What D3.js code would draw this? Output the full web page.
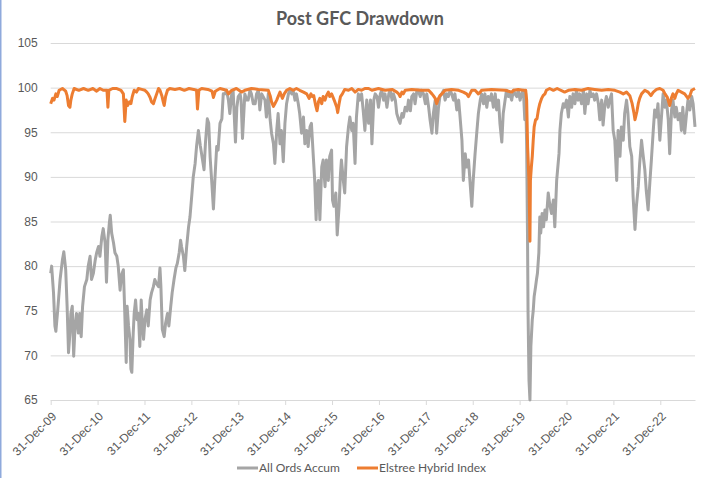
<!DOCTYPE html>
<html>
<head>
<meta charset="utf-8">
<script src="https://cdnjs.cloudflare.com/ajax/libs/d3/7.8.5/d3.min.js"></script>
<style>
  body { margin: 0; background: #fff; }
  svg { display: block; font-family: Lato, "Open Sans", sans-serif; }
  .axis text { fill: #595959; font-size: 12px; }
  .axis line { stroke: #d9d9d9; }
  .axis path { stroke: #d9d9d9; }
  .legend-text { fill: #595959; font-size: 12px; }
</style>
</head>
<body>
<div class="container"></div>
<script>
// dates are decimal years (2010.00 = 31-Dec-09)
var allOrds = [
  [2010.00,79.2],[2010.02,80.0],[2010.06,77.0],[2010.09,73.3],[2010.11,72.7],[2010.15,75.1],[2010.20,78.5],[2010.25,80.7],
  [2010.28,81.6],[2010.32,79.6],[2010.35,75.5],[2010.38,70.3],[2010.41,72.5],[2010.43,74.7],[2010.46,75.5],[2010.49,69.9],
  [2010.52,73.3],[2010.55,74.7],[2010.59,72.5],[2010.62,74.7],[2010.65,72.1],[2010.68,75.5],[2010.72,77.7],[2010.77,78.5],
  [2010.80,80.0],[2010.84,81.1],[2010.87,78.5],[2010.91,79.2],[2010.95,80.7],[2010.98,81.5],[2011.02,82.2],[2011.05,81.1],
  [2011.09,83.3],[2011.12,84.2],[2011.16,82.6],[2011.19,78.2],[2011.22,83.0],[2011.25,84.8],[2011.27,85.7],[2011.30,83.7],
  [2011.34,82.6],[2011.37,81.5],[2011.41,81.1],[2011.44,80.0],[2011.48,77.3],[2011.51,79.0],[2011.55,79.6],[2011.58,74.7],
  [2011.61,69.2],[2011.63,75.5],[2011.66,73.3],[2011.69,71.8],[2011.71,68.5],[2011.73,68.1],[2011.76,72.5],[2011.78,74.7],
  [2011.81,76.2],[2011.84,74.0],[2011.87,74.7],[2011.90,71.0],[2011.93,76.2],[2011.95,74.0],[2011.98,71.8],[2012.01,74.0],
  [2012.05,75.1],[2012.08,73.3],[2012.12,76.2],[2012.15,77.0],[2012.19,77.7],[2012.22,78.5],[2012.26,78.0],[2012.30,77.7],
  [2012.33,79.8],[2012.35,77.7],[2012.38,72.9],[2012.42,72.1],[2012.45,73.6],[2012.49,74.7],[2012.52,73.3],[2012.56,75.5],
  [2012.59,77.0],[2012.63,78.5],[2012.67,79.8],[2012.70,80.3],[2012.74,81.5],[2012.77,82.9],[2012.79,82.2],[2012.83,81.1],
  [2012.86,79.5],[2012.90,82.2],[2012.94,84.4],[2012.97,85.5],[2013.01,88.0],[2013.04,90.0],[2013.08,91.5],[2013.11,93.4],
  [2013.15,95.2],[2013.19,93.5],[2013.22,92.5],[2013.27,90.8],[2013.30,93.8],[2013.34,96.5],[2013.37,96.0],[2013.40,92.2],
  [2013.44,89.0],[2013.47,86.4],[2013.50,89.6],[2013.54,93.4],[2013.57,93.0],[2013.61,96.0],[2013.65,96.5],[2013.68,99.3],
  [2013.72,99.3],[2013.75,99.7],[2013.79,98.6],[2013.82,97.1],[2013.86,99.3],[2013.89,99.7],[2013.94,93.9],[2013.97,97.8],
  [2014.00,99.0],[2014.04,99.3],[2014.06,98.6],[2014.09,94.3],[2014.14,99.3],[2014.18,98.6],[2014.21,98.6],[2014.25,99.7],
  [2014.28,99.3],[2014.32,98.2],[2014.36,98.2],[2014.39,99.3],[2014.43,99.7],[2014.46,97.5],[2014.50,99.3],[2014.57,98.6],
  [2014.60,96.7],[2014.64,99.3],[2014.68,96.4],[2014.71,94.9],[2014.75,93.7],[2014.78,91.5],[2014.82,95.2],[2014.85,97.1],
  [2014.89,93.7],[2014.92,95.2],[2014.96,91.7],[2014.995,96.0],[2015.03,98.2],[2015.07,99.3],[2015.10,99.7],[2015.14,99.3],
  [2015.17,99.7],[2015.21,98.6],[2015.24,99.3],[2015.28,98.2],[2015.31,97.1],[2015.35,94.9],[2015.39,96.7],[2015.42,93.7],
  [2015.46,95.2],[2015.49,93.4],[2015.53,95.6],[2015.56,96.0],[2015.60,92.3],[2015.63,89.6],[2015.66,85.2],[2015.68,88.9],
  [2015.71,89.6],[2015.74,85.2],[2015.78,91.1],[2015.81,91.9],[2015.85,88.9],[2015.88,91.9],[2015.92,89.6],[2015.95,92.3],
  [2015.99,93.0],[2016.01,87.4],[2016.04,86.7],[2016.08,88.2],[2016.11,83.5],[2016.15,86.7],[2016.18,90.4],[2016.20,91.9],
  [2016.24,89.6],[2016.27,88.2],[2016.31,93.4],[2016.35,95.6],[2016.38,96.7],[2016.42,95.2],[2016.45,96.0],[2016.49,91.5],
  [2016.52,96.7],[2016.56,99.3],[2016.59,98.6],[2016.63,99.3],[2016.67,97.1],[2016.70,95.2],[2016.74,98.6],[2016.78,96.0],
  [2016.82,98.6],[2016.85,93.7],[2016.89,98.6],[2016.92,99.3],[2016.96,99.0],[2016.99,97.8],[2017.03,99.3],[2017.06,99.7],
  [2017.10,98.6],[2017.13,99.3],[2017.17,97.8],[2017.21,99.3],[2017.24,99.7],[2017.28,98.6],[2017.31,99.3],[2017.35,98.6],
  [2017.38,97.1],[2017.42,96.4],[2017.45,96.0],[2017.49,97.1],[2017.52,96.7],[2017.56,97.8],[2017.60,97.4],[2017.63,98.6],
  [2017.67,97.4],[2017.70,99.0],[2017.74,99.3],[2017.77,98.2],[2017.81,99.7],[2017.84,99.7],[2017.88,99.0],[2017.91,99.7],
  [2017.95,99.3],[2017.99,98.2],[2018.02,99.3],[2018.06,97.8],[2018.09,96.4],[2018.13,94.9],[2018.16,97.1],[2018.20,98.6],
  [2018.23,94.9],[2018.27,97.8],[2018.30,99.0],[2018.34,99.3],[2018.38,99.7],[2018.41,98.6],[2018.45,99.3],[2018.48,99.0],
  [2018.52,99.7],[2018.55,99.3],[2018.59,98.6],[2018.62,99.3],[2018.66,97.5],[2018.70,98.6],[2018.73,96.7],[2018.77,94.1],
  [2018.80,89.6],[2018.84,92.6],[2018.87,91.1],[2018.91,91.9],[2018.94,89.6],[2018.98,86.7],[2019.01,89.6],[2019.05,92.6],
  [2019.09,95.2],[2019.12,97.1],[2019.16,98.6],[2019.19,99.3],[2019.23,98.2],[2019.26,99.3],[2019.30,97.8],[2019.33,99.0],
  [2019.37,98.6],[2019.40,99.3],[2019.44,97.8],[2019.48,99.3],[2019.51,97.5],[2019.55,98.6],[2019.58,96.0],[2019.62,93.9],
  [2019.65,97.1],[2019.69,98.6],[2019.72,99.7],[2019.76,99.0],[2019.79,99.3],[2019.83,98.6],[2019.87,99.7],[2019.90,99.3],
  [2019.94,99.0],[2019.97,99.7],[2020.01,98.6],[2020.04,99.3],[2020.08,99.7],[2020.11,96.4],[2020.13,99.3],[2020.15,93.4],
  [2020.17,82.2],[2020.18,74.7],[2020.20,67.2],[2020.22,65.0],[2020.24,71.0],[2020.27,74.0],[2020.29,75.0],[2020.31,76.6],
  [2020.34,77.7],[2020.36,78.5],[2020.38,79.2],[2020.41,81.5],[2020.43,85.5],[2020.45,83.7],[2020.48,85.9],[2020.51,84.4],
  [2020.54,86.3],[2020.57,85.2],[2020.61,88.2],[2020.64,87.0],[2020.68,85.9],[2020.72,87.4],[2020.75,84.4],[2020.79,89.6],
  [2020.81,90.8],[2020.84,92.6],[2020.86,95.2],[2020.89,97.1],[2020.93,98.2],[2020.96,97.8],[2021.00,98.6],[2021.04,96.7],
  [2021.07,99.0],[2021.11,97.8],[2021.14,99.3],[2021.18,98.2],[2021.21,99.7],[2021.25,98.6],[2021.28,99.3],[2021.32,98.2],
  [2021.36,99.7],[2021.39,97.1],[2021.43,99.3],[2021.46,98.2],[2021.50,99.7],[2021.53,99.0],[2021.57,99.3],[2021.60,98.6],
  [2021.64,99.3],[2021.68,98.2],[2021.71,96.4],[2021.75,98.6],[2021.78,95.8],[2021.82,98.2],[2021.85,99.0],[2021.89,97.8],
  [2021.92,98.6],[2021.96,99.3],[2021.995,95.2],[2022.03,94.1],[2022.07,89.6],[2022.10,95.2],[2022.14,92.3],[2022.17,95.6],
  [2022.21,94.1],[2022.24,97.1],[2022.28,98.6],[2022.31,97.1],[2022.35,93.4],[2022.39,92.3],[2022.42,87.8],[2022.46,84.1],
  [2022.49,86.7],[2022.53,88.9],[2022.56,91.5],[2022.60,94.1],[2022.63,92.6],[2022.67,90.8],[2022.70,88.5],[2022.74,86.3],
  [2022.78,89.6],[2022.81,91.9],[2022.85,95.2],[2022.88,97.5],[2022.92,96.7],[2022.95,98.2],[2022.99,94.1],[2023.03,97.1],
  [2023.06,99.3],[2023.10,97.8],[2023.13,98.6],[2023.17,96.4],[2023.20,92.6],[2023.24,97.5],[2023.27,98.6],[2023.31,96.7],
  [2023.34,97.8],[2023.38,96.4],[2023.42,97.1],[2023.45,95.2],[2023.48,97.8],[2023.52,94.9],[2023.56,97.1],[2023.59,98.6],
  [2023.63,97.5],[2023.67,99.0],[2023.70,98.2],[2023.74,95.6]
];

var elstree = [
  [2010.00,98.2],[2010.04,98.8],[2010.07,98.6],[2010.11,99.3],[2010.14,99.0],[2010.18,99.7],[2010.25,99.9],[2010.32,99.6],
  [2010.35,99.1],[2010.38,98.0],[2010.41,97.8],[2010.43,98.6],[2010.46,99.3],[2010.50,99.9],[2010.60,99.7],[2010.70,99.9],
  [2010.80,99.7],[2010.90,99.9],[2010.98,99.6],[2011.05,99.9],[2011.12,99.7],[2011.20,99.7],[2011.22,97.8],[2011.24,99.7],
  [2011.32,99.9],[2011.41,99.9],[2011.50,99.7],[2011.55,99.3],[2011.58,96.2],[2011.61,98.6],[2011.64,98.0],[2011.68,98.4],
  [2011.71,98.2],[2011.74,99.0],[2011.78,99.7],[2011.83,99.5],[2011.87,99.9],[2011.94,99.8],[2012.01,99.7],[2012.05,99.5],
  [2012.08,99.3],[2012.12,98.9],[2012.15,98.4],[2012.19,98.2],[2012.22,98.7],[2012.26,99.3],[2012.30,99.9],[2012.33,99.7],
  [2012.37,99.1],[2012.40,98.4],[2012.42,98.0],[2012.45,99.0],[2012.49,99.7],[2012.54,99.9],[2012.65,99.8],[2012.75,99.9],
  [2012.85,99.7],[2012.95,99.9],[2013.05,99.8],[2013.11,99.7],[2013.13,97.6],[2013.16,99.7],[2013.22,99.9],[2013.35,99.8],
  [2013.44,99.6],[2013.47,98.9],[2013.51,99.6],[2013.61,99.9],[2013.75,99.7],[2013.79,99.3],[2013.86,99.7],[2013.96,99.9],
  [2014.07,99.5],[2014.14,99.7],[2014.28,99.9],[2014.43,99.8],[2014.64,99.7],[2014.68,99.1],[2014.71,98.4],[2014.75,97.9],
  [2014.78,98.2],[2014.82,98.6],[2014.85,99.0],[2014.89,99.5],[2014.94,98.8],[2014.98,99.3],[2015.03,99.7],[2015.10,99.9],
  [2015.17,99.7],[2015.24,99.9],[2015.31,99.7],[2015.39,99.5],[2015.46,99.3],[2015.51,98.8],[2015.55,99.3],[2015.58,99.0],
  [2015.61,99.1],[2015.65,98.0],[2015.68,97.4],[2015.71,98.4],[2015.74,98.8],[2015.78,98.2],[2015.81,99.0],[2015.85,98.6],
  [2015.88,99.1],[2015.92,99.5],[2015.95,99.0],[2015.99,99.3],[2016.03,98.8],[2016.06,98.4],[2016.10,97.8],[2016.12,97.2],
  [2016.15,98.2],[2016.18,99.0],[2016.22,99.3],[2016.27,99.8],[2016.35,99.7],[2016.42,99.9],[2016.49,99.5],[2016.56,99.8],
  [2016.63,99.7],[2016.70,99.9],[2016.78,99.9],[2016.85,99.7],[2016.99,99.9],[2017.13,99.7],[2017.28,99.8],[2017.38,99.5],
  [2017.42,99.3],[2017.45,99.0],[2017.49,99.5],[2017.52,99.3],[2017.56,99.7],[2017.70,99.8],[2017.91,99.7],[2018.06,99.7],
  [2018.13,99.3],[2018.16,99.1],[2018.20,98.8],[2018.23,98.2],[2018.27,98.8],[2018.30,99.1],[2018.34,99.3],[2018.41,99.7],
  [2018.55,99.8],[2018.70,99.7],[2018.80,99.5],[2018.87,99.3],[2018.91,99.0],[2018.94,99.3],[2018.98,99.7],[2019.05,99.7],
  [2019.12,99.3],[2019.16,99.5],[2019.19,99.7],[2019.40,99.8],[2019.69,99.7],[2019.83,99.5],[2019.87,99.7],[2019.97,99.8],
  [2020.08,99.7],[2020.13,99.7],[2020.15,98.6],[2020.17,93.4],[2020.20,89.6],[2020.22,82.8],[2020.23,89.6],[2020.25,91.1],
  [2020.27,92.3],[2020.29,94.1],[2020.31,95.6],[2020.34,96.4],[2020.37,96.5],[2020.40,97.5],[2020.43,98.2],[2020.47,98.8],
  [2020.50,99.1],[2020.54,99.3],[2020.57,99.7],[2020.64,99.9],[2020.72,99.7],[2020.80,99.9],[2020.96,99.5],[2021.04,99.7],
  [2021.18,99.8],[2021.32,99.7],[2021.46,99.9],[2021.60,99.8],[2021.75,99.7],[2021.89,99.8],[2022.03,99.7],[2022.14,99.5],
  [2022.21,99.3],[2022.28,99.5],[2022.35,99.1],[2022.40,98.2],[2022.44,97.1],[2022.46,96.4],[2022.50,97.3],[2022.53,98.2],
  [2022.56,98.8],[2022.60,99.3],[2022.67,99.7],[2022.74,99.5],[2022.80,99.1],[2022.85,99.5],[2022.92,99.8],[2022.99,99.9],
  [2023.06,99.7],[2023.10,99.3],[2023.15,98.9],[2023.20,98.0],[2023.24,98.9],[2023.27,99.3],[2023.31,98.8],[2023.34,99.3],
  [2023.38,99.7],[2023.45,99.5],[2023.52,99.3],[2023.59,98.8],[2023.63,99.1],[2023.67,99.7],[2023.74,99.9]
];

var tickYears = [2010, 2011, 2012, 2013, 2014, 2015, 2016, 2017, 2018, 2019, 2020, 2021, 2022, 2023];
var tickLabels = ["31-Dec-09", "31-Dec-10", "31-Dec-11", "31-Dec-12", "31-Dec-13", "31-Dec-14", "31-Dec-15",
                  "31-Dec-16", "31-Dec-17", "31-Dec-18", "31-Dec-19", "31-Dec-20", "31-Dec-21", "31-Dec-22"];
var yTicks = [65, 70, 75, 80, 85, 90, 95, 100, 105];
var seriesNames = ["All Ords Accum", "Elstree Hybrid Index"];
var seriesColors = ["#a5a5a5", "#ed7d31"];

var margin = {top: 43, right: 12, bottom: 78, left: 50.7},
    width = 707 - margin.left - margin.right,
    height = 478 - margin.top - margin.bottom;

var root = d3.select(".container")
  .append("svg")
    .attr("width", 707)
    .attr("height", 478);

// frame edge on the left
root.append("line")
  .attr("x1", 0.75).attr("x2", 0.75)
  .attr("y1", 0).attr("y2", 478)
  .attr("stroke", "#8faadc")
  .attr("stroke-width", 1.5);

root.append("text")
  .attr("x", 360)
  .attr("y", 25)
  .attr("text-anchor", "middle")
  .attr("fill", "#595959")
  .style("font-size", "18px")
  .style("font-weight", "bold")
  .text("Post GFC Drawdown");

var svg = root.append("g")
  .attr("transform", "translate(" + margin.left + "," + margin.top + ")");

var x = d3.scaleLinear()
  .domain([2010, 2023.74])
  .range([0, width]);

var y = d3.scaleLinear()
  .domain([65, 105])
  .range([height, 0]);

var yAxis = svg.append("g")
  .attr("class", "axis")
  .call(d3.axisLeft(y).tickValues(yTicks).tickSize(-width).tickPadding(13));
yAxis.select(".domain").remove();

var xAxis = svg.append("g")
  .attr("class", "axis")
  .attr("transform", "translate(0," + height + ")")
  .call(d3.axisBottom(x)
    .tickValues(tickYears)
    .tickSize(5)
    .tickSizeOuter(0)
    .tickFormat(function(d, i) { return tickLabels[i]; }));

xAxis.selectAll("text")
  .attr("text-anchor", "end")
  .attr("dy", "0.35em")
  .attr("x", 0)
  .attr("y", 0)
  .attr("transform", "translate(3,14) rotate(-45)");

var line = d3.line()
  .x(function(d) { return x(d[0]); })
  .y(function(d) { return y(d[1]); });

[allOrds, elstree].forEach(function(series, i) {
  svg.append("path")
    .datum(series)
    .attr("fill", "none")
    .attr("stroke", seriesColors[i])
    .attr("stroke-width", 3)
    .attr("stroke-linejoin", "round")
    .attr("d", line);
});

// legend
var legendX = [237, 357];
seriesNames.forEach(function(name, i) {
  root.append("line")
    .attr("x1", legendX[i]).attr("x2", legendX[i] + 21)
    .attr("y1", 468).attr("y2", 468)
    .attr("stroke", seriesColors[i])
    .attr("stroke-width", 3);
  root.append("text")
    .attr("class", "legend-text")
    .attr("x", legendX[i] + 22)
    .attr("y", 472)
    .text(name);
});
</script>
</body>
</html>
